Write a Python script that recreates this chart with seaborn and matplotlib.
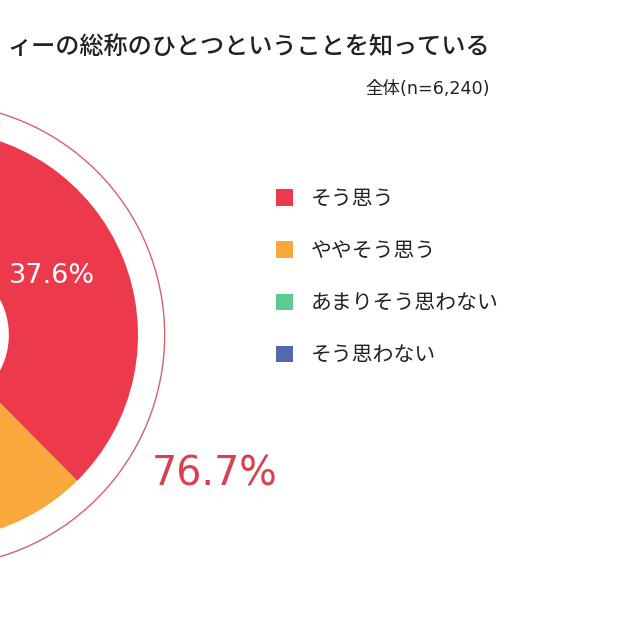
import matplotlib
matplotlib.use('Agg')
import matplotlib.pyplot as plt
import seaborn as sns
from matplotlib.patches import Patch, Circle

# data
labels = ['そう思う', 'ややそう思う', 'あまりそう思わない', 'そう思わない']
values = [37.6, 39.1, 17.0, 6.3]
colors = ['#ec3a4c', '#f9a83b', '#5dcb8f', '#5468b0']
title = 'ィーの総称のひとつということを知っている'
subtitle = '全体(n=6,240)'
top2_label = '76.7%'

sns.set_theme(style='white')
plt.rcParams['font.family'] = ['Noto Sans CJK JP', 'DejaVu Sans']

fig = plt.figure(figsize=(6.4, 6.4), dpi=100)

# pie axes - centre sits off the left edge of the picture
cx, cy, half = -67, 335, 246
ax = fig.add_axes([(cx - half) / 640, (640 - cy - half) / 640, 2 * half / 640, 2 * half / 640])
wedges, _ = ax.pie(values, colors=colors, startangle=90, counterclock=False,
                   radius=1.0, wedgeprops=dict(width=0.63, edgecolor='none'))
ax.add_patch(Circle((0, 0), 1.13, fill=False, edgecolor='#d8606c', linewidth=1.0))
ax.set_xlim(-1.2, 1.2)
ax.set_ylim(-1.2, 1.2)
ax.set_aspect('equal')
ax.axis('off')

# label of first slice
ax.text(0.58, 0.29, f'{values[0]}%', color='white', fontsize=19.5,
        ha='center', va='center', family='DejaVu Sans')

fig.text(215 / 640, 1 - 474 / 640, top2_label, color='#d9414f', fontsize=28.5,
         ha='center', va='center', family='DejaVu Sans')

fig.text(490 / 640, 1 - 47 / 640, title, fontsize=17.4, ha='right', va='center',
         color='#222222', fontweight='medium')
fig.text(490 / 640, 1 - 89 / 640, subtitle, fontsize=12.6, ha='right', va='center',
         color='#222222', family=['DejaVu Sans', 'Noto Sans CJK JP'])

handles = [Patch(facecolor=c, edgecolor='none') for c in colors]
fig.legend(handles, labels, loc='upper left', bbox_to_anchor=(257 / 640, 1 - 169 / 640),
           frameon=False, fontsize=15, handlelength=0.85, handleheight=0.85,
           handletextpad=0.85, labelspacing=1.45, labelcolor='#222222')

fig.savefig('out.png', dpi=100, facecolor='white')
